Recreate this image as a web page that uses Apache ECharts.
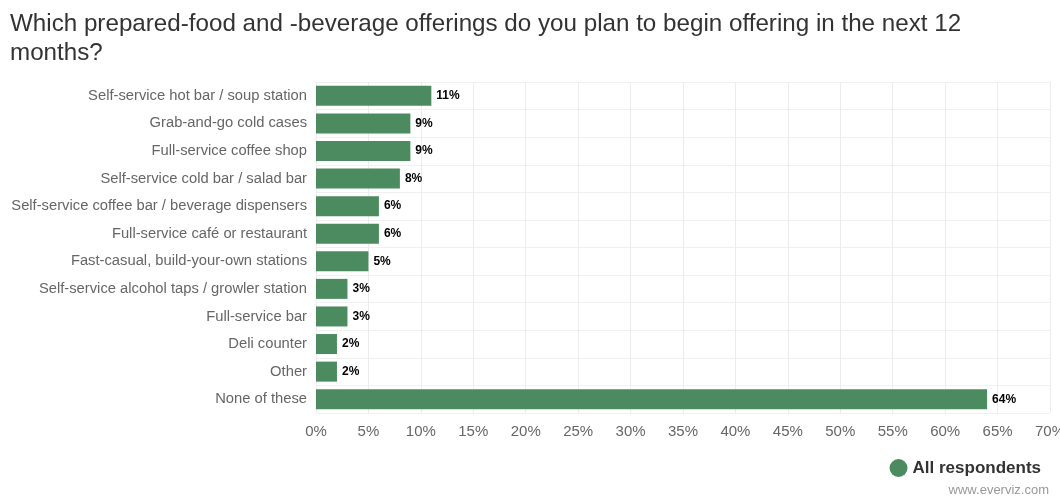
<!DOCTYPE html>
<html><head><meta charset="utf-8">
<script src="https://cdn.jsdelivr.net/npm/echarts@6/dist/echarts.min.js"></script>
<style>html,body{margin:0;padding:0;background:#fff}#c{width:1060px;height:500px}</style>
</head><body><div id="c"></div>
<script>
const categories = ["Self-service hot bar / soup station","Grab-and-go cold cases","Full-service coffee shop","Self-service cold bar / salad bar","Self-service coffee bar / beverage dispensers","Full-service café or restaurant","Fast-casual, build-your-own stations","Self-service alcohol taps / growler station","Full-service bar","Deli counter","Other","None of these"];
const values = [11, 9, 9, 8, 6, 6, 5, 3, 3, 2, 2, 64];
const seriesName = "All respondents";
const titleText = "Which prepared-food and -beverage offerings do you plan to begin offering in the next 12\nmonths?";
const creditText = "www.everviz.com";

const chart = echarts.init(document.getElementById('c'), null, {renderer:'canvas'});
const font = '"Liberation Sans", Arial, sans-serif';
chart.setOption({
  animation:false,
  textStyle:{fontFamily:font},
  title:[{text:titleText,left:5,top:5,textStyle:{fontFamily:font,fontSize:24.2,fontWeight:'normal',color:'#333',lineHeight:29}},
         {text:creditText,right:6,bottom:-2,textStyle:{fontFamily:font,fontSize:13,fontWeight:'normal',color:'#999'}}],
  legend:{data:[{name:seriesName,icon:'circle'}],right:14,bottom:18,itemWidth:18,itemHeight:18,itemGap:5,
    textStyle:{fontFamily:font,fontSize:17,fontWeight:'bold',color:'#333'}},
  grid:{left:316,right:10,top:82,bottom:87,containLabel:false,outerBoundsMode:'none'},
  xAxis:{type:'value',min:0,max:70,interval:5,
    axisLabel:{formatter:'{value}%',fontFamily:font,fontSize:15,color:'#666',margin:11},
    splitLine:{show:true,lineStyle:{color:'#ececec',width:1}},
    axisLine:{show:false},axisTick:{show:false}},
  yAxis:{type:'category',data:categories,inverse:true,
    axisLabel:{fontFamily:font,fontSize:14.75,color:'#666',margin:9,padding:[3,0,0,0]},
    axisLine:{show:false},axisTick:{show:false},
    splitLine:{show:true,lineStyle:{color:'#f0f0f0',width:1}}},
  series:[{name:seriesName,type:'bar',data:values,barWidth:20,
    itemStyle:{color:'#4b8b5f'},
    label:{show:true,position:'right',distance:5,formatter:'{c}%',fontFamily:font,fontSize:12,fontWeight:'bold',color:'#000'}}]
});
</script></body></html>
